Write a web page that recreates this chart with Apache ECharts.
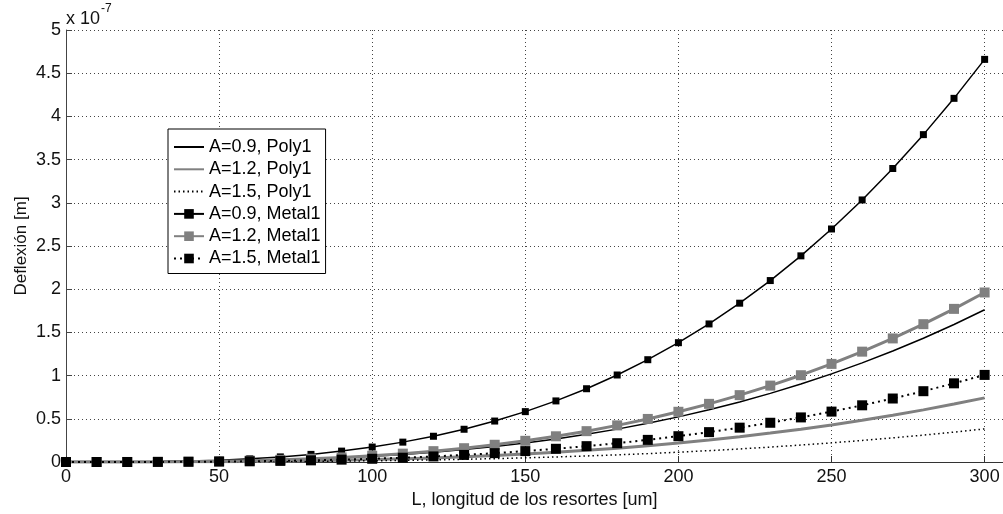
<!DOCTYPE html>
<html>
<head>
<meta charset="utf-8">
<script src="https://cdn.jsdelivr.net/npm/echarts@6/dist/echarts.min.js"></script>
<style>
html,body{margin:0;padding:0;background:#fff;}
#chart{width:1003px;height:514px;}
</style>
</head>
<body>
<div id="chart"></div>
<script>
// L, longitud de los resortes [um]
const lengths = [0,10,20,30,40,50,60,70,80,90,100,110,120,130,140,150,160,170,180,190,200,210,220,230,240,250,260,270,280,290,300];
// Deflexión in units of 1e-7 m
const poly09 = [0,0.0001,0.0005,0.0018,0.0042,0.0082,0.0141,0.0224,0.0334,0.0476,0.0653,0.0869,0.1128,0.1434,0.1791,0.2203,0.2673,0.3206,0.3806,0.4476,0.5221,0.6044,0.6949,0.794,0.9021,1.0197,1.147,1.2845,1.4326,1.5916,1.762];
const poly12 = [0,0.00003,0.0002,0.0007,0.0018,0.0034,0.0059,0.0094,0.0141,0.02,0.0275,0.0366,0.0475,0.0604,0.0754,0.0928,0.1126,0.135,0.1603,0.1885,0.2199,0.2545,0.2926,0.3344,0.3799,0.4294,0.483,0.5409,0.6033,0.6702,0.742];
const poly15 = [0,0.00001,0.0001,0.0004,0.0009,0.0018,0.0031,0.0049,0.0073,0.0103,0.0142,0.0189,0.0245,0.0312,0.0389,0.0479,0.0581,0.0697,0.0827,0.0973,0.1135,0.1314,0.151,0.1726,0.1961,0.2216,0.2493,0.2792,0.3114,0.346,0.383];
const metal09 = [0,0.0002,0.0014,0.0047,0.011,0.0216,0.0373,0.059,0.088,0.126,0.173,0.230,0.298,0.379,0.474,0.583,0.707,0.848,1.007,1.184,1.381,1.598,1.838,2.100,2.386,2.697,3.033,3.397,3.789,4.209,4.66];
const metal12 = [0,0.0001,0.0006,0.002,0.0047,0.0091,0.0157,0.0249,0.0372,0.053,0.0727,0.0967,0.1256,0.1597,0.1994,0.2453,0.2976,0.357,0.4238,0.4984,0.5813,0.673,0.7738,0.8841,1.0045,1.1354,1.2772,1.4303,1.5952,1.7723,1.962];
const metal15 = [0,0.00004,0.0003,0.001,0.0024,0.0047,0.0081,0.0128,0.0191,0.0272,0.0373,0.0497,0.0645,0.082,0.1024,0.126,0.1529,0.1834,0.2177,0.2561,0.2987,0.3457,0.3975,0.4542,0.5161,0.5833,0.6562,0.7348,0.8195,0.9105,1.008];
const seriesNames = ['A=0.9, Poly1','A=1.2, Poly1','A=1.5, Poly1','A=0.9, Metal1','A=1.2, Metal1','A=1.5, Metal1'];
const xName = 'L, longitud de los resortes [um]';
const yName = 'Deflexión [m]';

const pairs = arr => lengths.map((x, i) => [x, arr[i]]);
const FONT = 'Liberation Sans, Arial, Helvetica, sans-serif';
const GRAY = '#808080';

const legendData = seriesNames.map((n, i) => i < 3 ? {name: n, itemStyle: {opacity: 0}} : {name: n});

const chart = echarts.init(document.getElementById('chart'), null, {renderer: 'canvas'});
chart.setOption({
  animation: false,
  backgroundColor: '#fff',
  textStyle: {fontFamily: FONT},
  grid: {left: 66, top: 30, width: 939, height: 435, containLabel: false},
  graphic: [
    {type: 'text', left: 66, top: 10, style: {text: 'x 10', font: '18px ' + FONT, fill: '#111'}},
    {type: 'text', left: 101, top: 3, style: {text: '-7', font: '12px ' + FONT, fill: '#111'}}
  ],
  legend: {
    orient: 'vertical',
    left: 168, top: 129,
    padding: [9, 5, 6, 5],
    itemGap: 4.3,
    itemWidth: 30, itemHeight: 12,
    backgroundColor: '#fff',
    borderColor: '#000', borderWidth: 1, borderRadius: 0,
    textStyle: {fontSize: 18, color: '#000', fontFamily: FONT},
    data: legendData
  },
  xAxis: {
    type: 'value', min: 0, max: 306, interval: 50,
    name: xName, nameLocation: 'middle', nameGap: 29, nameMoveOverlap: false,
    nameTextStyle: {fontSize: 18, color: '#111', fontFamily: FONT},
    axisLine: {lineStyle: {color: '#333', width: 1}},
    axisTick: {inside: true, length: 6, lineStyle: {color: '#333'}},
    axisLabel: {fontSize: 18, color: '#111', margin: 6, showMaxLabel: false, fontFamily: FONT},
    splitLine: {show: true, lineStyle: {color: '#444', type: [1, 3], width: 1}}
  },
  yAxis: {
    type: 'value', min: 0, max: 5, interval: 0.5,
    name: yName, nameLocation: 'middle', nameGap: 36, nameMoveOverlap: false,
    nameTextStyle: {fontSize: 17, color: '#111', fontFamily: FONT},
    axisLine: {show: true, lineStyle: {color: '#444', width: 1}},
    axisTick: {show: true, inside: true, length: 6, lineStyle: {color: '#444'}},
    axisLabel: {fontSize: 18, color: '#111', margin: 5, fontFamily: FONT},
    splitLine: {show: true, lineStyle: {color: '#444', type: [1, 3], width: 1}}
  },
  series: [
    {name: seriesNames[0], type: 'line', data: pairs(poly09), symbol: 'none',
     lineStyle: {color: '#000', width: 1.5}, itemStyle: {color: '#000'}},
    {name: seriesNames[1], type: 'line', data: pairs(poly12), symbol: 'none',
     lineStyle: {color: GRAY, width: 3}, itemStyle: {color: GRAY}},
    {name: seriesNames[2], type: 'line', data: pairs(poly15), symbol: 'none',
     lineStyle: {color: '#000', width: 1.5, type: [1.5, 3]}, itemStyle: {color: '#000'}},
    {name: seriesNames[3], type: 'line', data: pairs(metal09), symbol: 'rect', symbolSize: 7, showAllSymbol: true,
     lineStyle: {color: '#000', width: 1.5}, itemStyle: {color: '#000'}},
    {name: seriesNames[4], type: 'line', data: pairs(metal12), symbol: 'rect', symbolSize: 10, showAllSymbol: true,
     lineStyle: {color: GRAY, width: 3}, itemStyle: {color: GRAY}},
    {name: seriesNames[5], type: 'line', data: pairs(metal15), symbol: 'rect', symbolSize: 10, showAllSymbol: true,
     lineStyle: {color: '#000', width: 2, type: [2, 4]}, itemStyle: {color: '#000'}}
  ]
});
</script>
</body>
</html>
